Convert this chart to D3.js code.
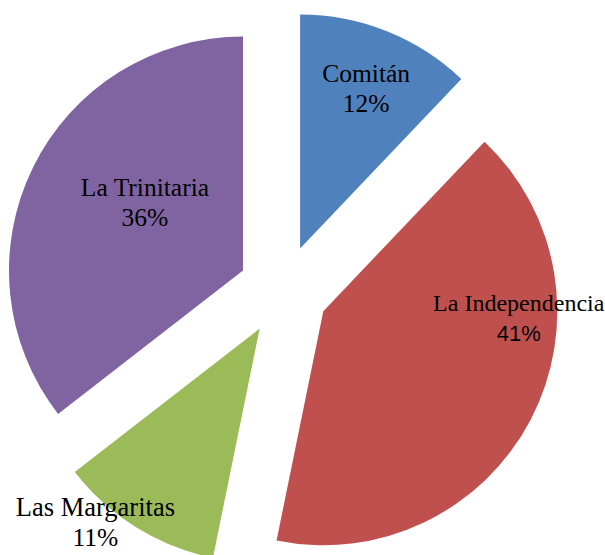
<!DOCTYPE html>
<html>
<head>
<meta charset="utf-8">
<script src="https://cdn.jsdelivr.net/npm/d3@7"></script>
<style>
    body { margin: 0; background: #fff; }
    svg { display: block; }
</style>
</head>
<body>
<svg id="chart" width="605" height="555"></svg>
<script>
// data
const names = ["Comitán", "La Independencia", "Las Margaritas", "La Trinitaria"];
const shares = [12.1, 41.1, 11.3, 35.5];
const colors = ["#4F81BD", "#C0504D", "#9BBB59", "#8064A2"];

// label placement relative to each slice tip: distance, angle (deg, clockwise from 12 o'clock)
const labelDist = [165, 196, 261, 115];
const labelAngle = [23.6, 94.4, 219, 301.5];
const nameSizes = [25.5, 24, 26.5, 25.5];
const pctFonts = ["Liberation Serif", "Liberation Sans", "Liberation Serif", "Liberation Serif"];

const sizes = {
    width: 605,
    height: 555,
    cx: 283.4,
    cy: 290.4,
    radius: 234,
    explode: 45,
};

const svg = d3.select("#chart");
const g = svg.append("g").attr("transform", `translate(${sizes.cx},${sizes.cy})`);

const pie = d3.pie().sort(null).value((d) => d.value);
const arc = d3.arc().innerRadius(0).outerRadius(sizes.radius);

const data = names.map((name, i) => ({
    name: name,
    value: shares[i],
    color: colors[i],
    ix: i,
}));

const total = d3.sum(shares);
const arcs = pie(data);

// offset of every slice along its middle angle
const tip = (d) => {
    const mid = (d.startAngle + d.endAngle) / 2;
    return [sizes.explode * Math.sin(mid), -sizes.explode * Math.cos(mid)];
};

const slices = g
    .selectAll("g.slice")
    .data(arcs)
    .join("g")
    .attr("class", "slice")
    .attr("transform", (d) => `translate(${tip(d)[0]},${tip(d)[1]})`);

slices
    .append("path")
    .attr("d", arc)
    .attr("fill", (d) => d.data.color);

const labels = slices
    .append("text")
    .attr("text-anchor", "middle")
    .attr("fill", "#000")
    .attr("transform", (d) => {
        const i = d.data.ix;
        const a = (labelAngle[i] * Math.PI) / 180;
        return `translate(${labelDist[i] * Math.sin(a)},${-labelDist[i] * Math.cos(a)})`;
    });

labels
    .append("tspan")
    .attr("x", 0)
    .attr("y", -15)
    .style("font-family", "'Liberation Serif', 'Times New Roman', serif")
    .style("font-size", (d) => `${nameSizes[d.data.ix]}px`)
    .text((d) => d.data.name);

labels
    .append("tspan")
    .attr("x", 0)
    .attr("y", 15)
    .style("font-family", (d) => `'${pctFonts[d.data.ix]}', serif`)
    .style("font-size", (d) => (pctFonts[d.data.ix] === "Liberation Sans" ? "22px" : "25.5px"))
    .text((d) => `${Math.round((d.data.value / total) * 100)}%`);
</script>
</body>
</html>
